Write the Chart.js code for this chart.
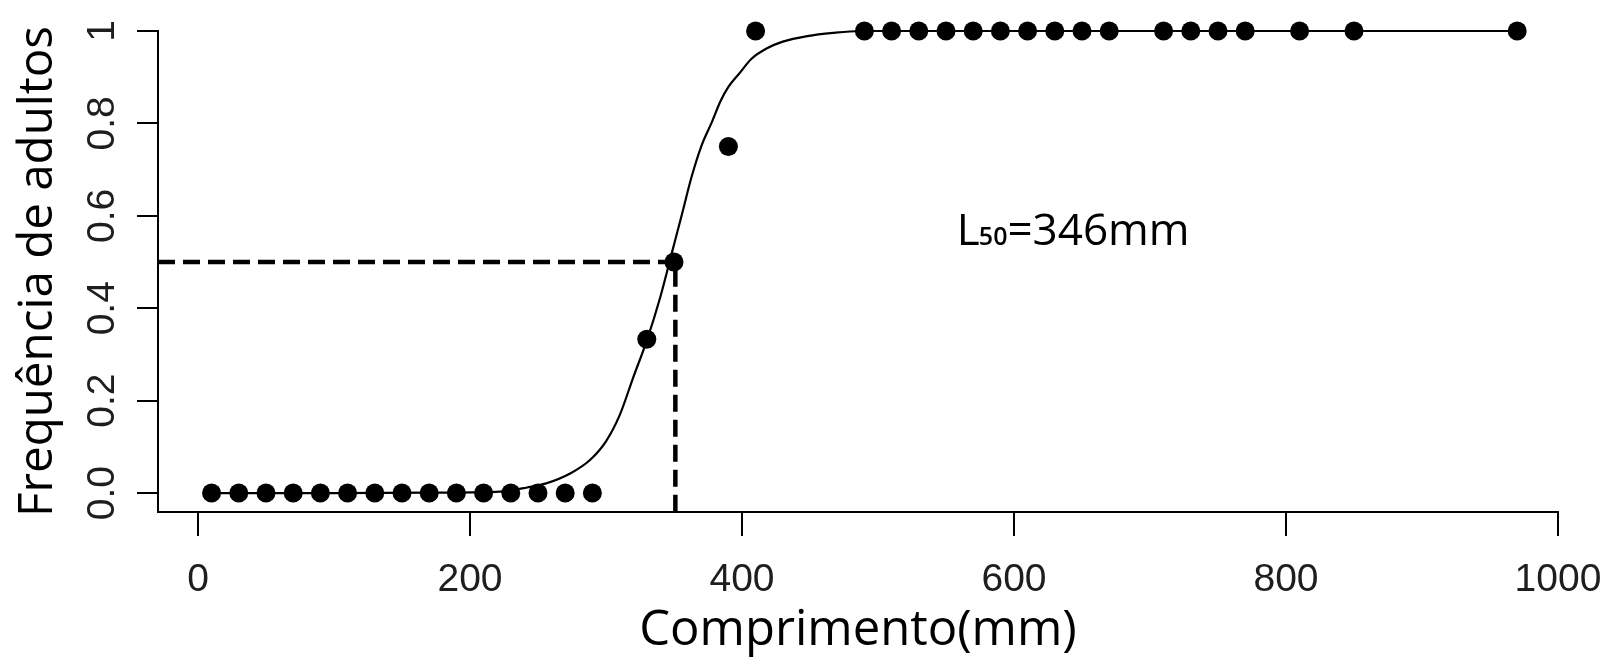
<!DOCTYPE html>
<html><head><meta charset="utf-8">
<script src="https://cdn.jsdelivr.net/npm/chart.js@4.4.1/dist/chart.umd.min.js"></script>
<style>html,body{margin:0;padding:0;background:#fff;}canvas{display:block;}</style>
</head><body>
<canvas id="c" width="1608" height="662"></canvas>
<script>
// ---- data ----
const lengthsMm = [10,30,50,70,90,110,130,150,170,190,210,230,250,270,290,
                   330,350,390,410,
                   490,510,530,550,570,590,610,630,650,670,710,730,750,770,810,850,970];
const adultFreq = [0,0,0,0,0,0,0,0,0,0,0,0,0,0,0,
                   0.333,0.5,0.75,1,
                   1,1,1,1,1,1,1,1,1,1,1,1,1,1,1,1,1];
// fitted logistic curve
const curveX = [10,100,180,222,242,256,274,288,300,310,320,330,340,348,356,363,370,378,384,390,398,407,418,430,448,467,487,600,970];
const curveY = [0,0,0.001,0.003,0.012,0.021,0.043,0.071,0.112,0.168,0.250,0.330,0.425,0.515,0.605,0.685,0.75,0.804,0.847,0.879,0.908,0.94,0.962,0.977,0.989,0.996,1,1,1];
const l50Length = 351;
const l50Freq = 0.5;
const xTickValues = [0,200,400,600,800,1000];
const xTickLabels = ['0','200','400','600','800','1000'];
const yTickValues = [0,0.2,0.4,0.6,0.8,1];
const yTickLabels = ['0.0','0.2','0.4','0.6','0.8','1'];
const xAxisTitle = 'Comprimento(mm)';
const yAxisTitle = 'Frequência de adultos';
const l50TextParts = ['L', '50', '=346mm'];

// ---- chart ----
const X_MIN = -29.4, X_MAX = 1000, Y_MIN = -0.041, Y_MAX = 1;
const labelAnchor = {x: 558, y: 0.537};

const pointsData = lengthsMm.map((v, i) => ({x: v, y: adultFreq[i]}));
const curveData = curveX.map((v, i) => ({x: v, y: curveY[i]}));
const refData = [{x: X_MIN, y: l50Freq}, {x: l50Length, y: l50Freq}, {x: l50Length, y: Y_MIN}];

const l50Plugin = {
  id: 'l50label',
  afterDatasetsDraw(chart) {
    const {ctx, scales} = chart;
    const px = scales.x.getPixelForValue(labelAnchor.x);
    const py = scales.y.getPixelForValue(labelAnchor.y);
    ctx.save();
    ctx.fillStyle = '#000';
    ctx.textBaseline = 'alphabetic';
    ctx.textAlign = 'left';
    let x = px;
    ctx.font = '400 44px "Open Sans"';
    ctx.fillText(l50TextParts[0], x, py);
    x += ctx.measureText(l50TextParts[0]).width - 1;
    ctx.font = '600 25px "Open Sans"';
    ctx.fillText(l50TextParts[1], x, py);
    x += ctx.measureText(l50TextParts[1]).width;
    ctx.font = '400 44px "Open Sans"';
    ctx.fillText(l50TextParts[2], x, py);
    ctx.restore();
  }
};

new Chart(document.getElementById('c'), {
  type: 'scatter',
  data: {
    datasets: [
      {label: 'dados', data: pointsData, order: 0, pointRadius: 9.5, pointHoverRadius: 9.5,
       backgroundColor: '#000', borderWidth: 0, showLine: false, clip: false},
      {label: 'curva', data: curveData, order: 1, showLine: true, pointRadius: 0,
       borderColor: '#000', borderWidth: 2.2, cubicInterpolationMode: 'monotone', fill: false, clip: false},
      {label: 'L50', data: refData, order: 2, showLine: true, pointRadius: 0,
       borderColor: '#000', borderWidth: 4.5, borderDash: [17, 8], tension: 0, fill: false, clip: false}
    ]
  },
  options: {
    responsive: false,
    animation: false,
    events: [],
    layout: {padding: {left: 0, right: 50, top: 31, bottom: 0}},
    plugins: {legend: {display: false}, tooltip: {enabled: false}},
    scales: {
      x: {
        type: 'linear', min: X_MIN, max: X_MAX,
        afterBuildTicks: s => { s.ticks = xTickValues.map(v => ({value: v})); },
        afterFit: s => { s.height = 150; s.paddingLeft = 0; s.paddingRight = 0; },
        ticks: {autoSkip: false, maxRotation: 0, minRotation: 0, padding: 21, color: '#1e1e1e',
                font: {family: '"Liberation Sans", Arial, sans-serif', size: 39},
                callback: (v, i) => xTickLabels[i]},
        grid: {display: true, drawOnChartArea: false, drawTicks: true, tickLength: 24, color: '#000', lineWidth: 2},
        border: {display: true, color: '#000', width: 2},
        title: {display: true, text: xAxisTitle, color: '#000', padding: {top: 0, bottom: 2},
                font: {family: '"Open Sans"', size: 49, weight: '400'}}
      },
      y: {
        type: 'linear', min: Y_MIN, max: Y_MAX,
        afterBuildTicks: s => { s.ticks = yTickValues.map(v => ({value: v})); },
        afterFit: s => { s.width = 158; s.paddingTop = 0; s.paddingBottom = 0; },
        ticks: {autoSkip: false, minRotation: 90, maxRotation: 90, crossAlign: 'center', padding: 7,
                color: '#1e1e1e', font: {family: '"Liberation Sans", Arial, sans-serif', size: 39},
                callback: (v, i) => yTickLabels[i]},
        grid: {display: true, drawOnChartArea: false, drawTicks: true, tickLength: 21, color: '#000', lineWidth: 2},
        border: {display: true, color: '#000', width: 2},
        title: {display: true, text: yAxisTitle, color: '#000', padding: {top: 10, bottom: 0},
                font: {family: '"Open Sans"', size: 47.5, weight: '400'}}
      }
    }
  },
  plugins: [l50Plugin]
});
</script>
</body></html>
